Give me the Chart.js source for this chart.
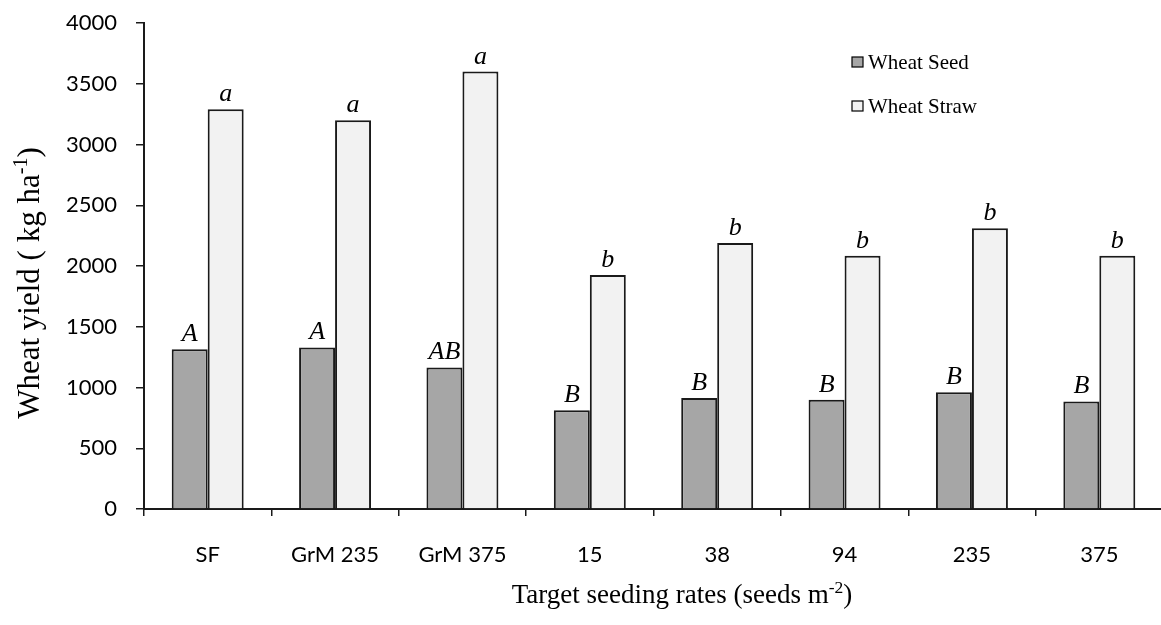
<!DOCTYPE html>
<html>
<head>
<meta charset="utf-8">
<script src="https://cdn.jsdelivr.net/npm/chart.js@4/dist/chart.umd.min.js"></script>
<style>
  html, body { margin: 0; padding: 0; background: #fff; overflow: hidden; }
  canvas { display: block; }
</style>
</head>
<body>
<canvas id="yield__chart" width="1165" height="625"></canvas>
<script>
const categories = ["SF", "GrM 235", "GrM 375", "15", "38", "94", "235", "375"]
const seedYield = [1315, 1330, 1165, 812, 913, 900, 960, 885]
const strawYield = [3290, 3200, 3600, 1925, 2190, 2085, 2310, 2085]
const seedLetters = ["A", "A", "AB", "B", "B", "B", "B", "B"]
const strawLetters = ["a", "a", "a", "b", "b", "b", "b", "b"]
const yTicks = [0, 500, 1000, 1500, 2000, 2500, 3000, 3500, 4000]

const serif = "'Liberation Serif', 'Times New Roman', serif"

// draws a string with a superscript part, starting at x (left aligned)
function drawWithSup(ctx, parts, x, y, size) {
  let cx = x
  parts.forEach((p) => {
    const s = p.sup ? size * 0.65 : size
    ctx.font = s + "px " + serif
    ctx.fillText(p.text, cx, p.sup ? y - size * 0.38 : y)
    cx += ctx.measureText(p.text).width
  })
}

function measureWithSup(ctx, parts, size) {
  let w = 0
  parts.forEach((p) => {
    const s = p.sup ? size * 0.65 : size
    ctx.font = s + "px " + serif
    w += ctx.measureText(p.text).width
  })
  return w
}

const extrasPlugin = {
  id: "extras",
  afterDatasetsDraw(chart) {
    const ctx = chart.ctx
    ctx.save()
    ctx.fillStyle = "#000"
    ctx.font = "italic 26px " + serif
    ctx.textAlign = "center"
    ctx.textBaseline = "alphabetic"
    const letterSets = [seedLetters, strawLetters]
    chart.data.datasets.forEach((ds, i) => {
      const meta = chart.getDatasetMeta(i)
      meta.data.forEach((bar, j) => {
        ctx.fillText(letterSets[i][j], bar.x, bar.y - 8)
      })
    })
    ctx.restore()
  },
  afterDraw(chart) {
    const ctx = chart.ctx
    ctx.save()
    ctx.fillStyle = "#000"
    ctx.textAlign = "left"

    // legend
    const legendRows = [
      { label: "Wheat Seed", color: "#a6a6a6", y: 63 },
      { label: "Wheat Straw", color: "#f2f2f2", y: 107 },
    ]
    legendRows.forEach((r) => {
      ctx.fillStyle = r.color
      ctx.fillRect(852, r.y - 6, 11, 10)
      ctx.strokeStyle = "#000"
      ctx.lineWidth = 1.2
      ctx.strokeRect(852, r.y - 6, 11, 10)
      ctx.fillStyle = "#000"
      ctx.font = "21px " + serif
      ctx.textBaseline = "middle"
      ctx.fillText(r.label, 868, r.y)
    })

    // x axis title
    const xParts = [{ text: "Target seeding rates (seeds m" }, { text: "-2", sup: true }, { text: ")" }]
    ctx.textBaseline = "alphabetic"
    const xw = measureWithSup(ctx, xParts, 27)
    drawWithSup(ctx, xParts, 682 - xw / 2, 603, 27)

    // y axis title
    const yParts = [{ text: "Wheat yield ( kg ha" }, { text: "-1", sup: true }, { text: ")" }]
    ctx.translate(39, 283)
    ctx.rotate(-Math.PI / 2)
    const yw = measureWithSup(ctx, yParts, 31)
    drawWithSup(ctx, yParts, -yw / 2, 0, 31)
    ctx.restore()
  },
}

const canvas = document.getElementById("yield__chart")
const chart = new Chart(canvas, {
  type: "bar",
  data: {
    labels: categories,
    datasets: [
      {
        label: "Wheat Seed",
        data: seedYield,
        backgroundColor: "#a6a6a6",
        borderColor: "#1a1a1a",
        borderWidth: 2,
        borderSkipped: "bottom",
        categoryPercentage: 0.565,
        barPercentage: 1,
      },
      {
        label: "Wheat Straw",
        data: strawYield,
        backgroundColor: "#f2f2f2",
        borderColor: "#1a1a1a",
        borderWidth: 2,
        borderSkipped: "bottom",
        categoryPercentage: 0.565,
        barPercentage: 1,
      },
    ],
  },
  options: {
    responsive: false,
    animation: false,
    layout: { padding: { top: 23, right: 2, left: 0, bottom: 0 } },
    plugins: {
      legend: { display: false },
      tooltip: { enabled: false },
    },
    scales: {
      x: {
        grid: {
          display: true,
          offset: true,
          drawOnChartArea: false,
          drawTicks: true,
          tickLength: 7,
          color: "#1a1a1a",
          lineWidth: 1.5,
        },
        border: { display: true, color: "#1a1a1a", width: 2 },
        ticks: {
          color: "#000",
          font: { family: "Lato", size: 22 },
          padding: 26,
          maxRotation: 0,
          autoSkip: false,
        },
        afterFit(scale) {
          scale.height = 116
          scale.paddingLeft = 0
          scale.paddingRight = 0
        },
      },
      y: {
        min: 0,
        max: 4000,
        afterBuildTicks(scale) {
          scale.ticks = yTicks.map((v) => ({ value: v }))
        },
        grid: {
          display: true,
          drawOnChartArea: false,
          drawTicks: true,
          tickLength: 8,
          color: "#1a1a1a",
          lineWidth: 1.5,
        },
        border: { display: true, color: "#1a1a1a", width: 2 },
        ticks: {
          color: "#000",
          font: { family: "Lato", size: 22 },
          padding: 19,
          callback: (v) => String(v),
        },
        afterFit(scale) {
          scale.width = 144
          scale.paddingTop = 0
          scale.paddingBottom = 0
        },
      },
    },
  },
  plugins: [extrasPlugin],
})
</script>
</body>
</html>
